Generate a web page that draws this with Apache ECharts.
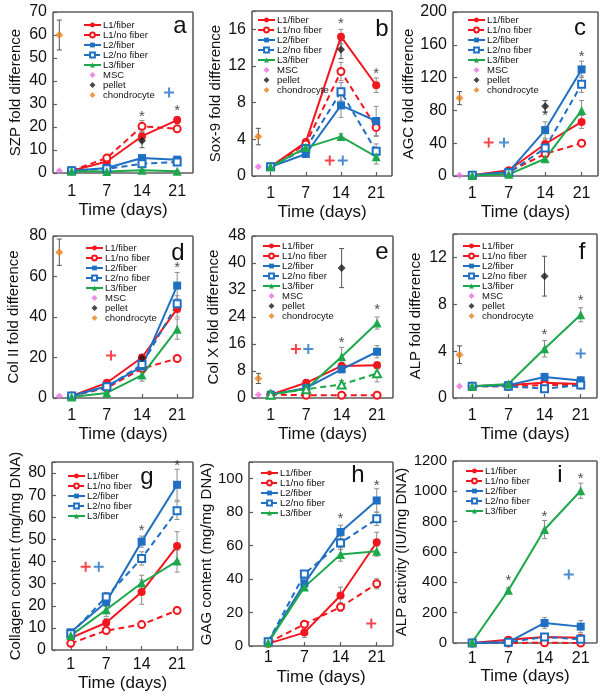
<!DOCTYPE html>
<html><head><meta charset="utf-8">
<script src="https://cdn.jsdelivr.net/npm/echarts@6/dist/echarts.min.js"></script>
<style>html,body{margin:0;padding:0;background:#fff}#c{width:604px;height:699px}</style>
</head><body><div id="c"></div>
<script>
// ---------- DATA ----------
const days = [1, 7, 14, 21];
const dayLabels = ['1', '7', '14', '21'];
const seriesNames = ['L1/fiber', 'L1/no fiber', 'L2/fiber', 'L2/no fiber', 'L3/fiber'];
const refNames = ['MSC', 'pellet', 'chondrocyte'];

// a: SZP fold difference
const a_L1f = [1, 5, 16, 23],        a_L1f_e = [0, 0.8, 2.2, 1.5];
const a_L1n = [1, 6.5, 20.3, 19.2],  a_L1n_e = [0, 1, 2.5, 1.2];
const a_L2f = [1, 2.2, 6.5, 5.8],    a_L2f_e = [0, 0.5, 1, 1];
const a_L2n = [1, 1.8, 4, 4.8],      a_L2n_e = [0, 0.5, 1, 0.8];
const a_L3f = [0.8, 0.6, 1.2, 0.8],  a_L3f_e = [0, 0.2, 0.3, 0.2];
const a_msc = 1, a_pellet = [14, 3], a_chondro = [60, 6.5];
const a_stars = [[14, 24.5], [21, 27]];
const a_plusRed = [], a_plusBlue = [[2.77, 35]];

// b: Sox-9 fold difference
const b_L1f = [1, 3.7, 15.2, 9.9],   b_L1f_e = [0, 0.3, 0.8, 0.8];
const b_L1n = [1, 3.5, 11.4, 5.3],   b_L1n_e = [0, 0.3, 1, 1];
const b_L2f = [1, 2.4, 7.7, 6.0],    b_L2f_e = [0, 0.3, 1.3, 1.6];
const b_L2n = [1, 3.0, 9.2, 2.7],    b_L2n_e = [0, 0.3, 1, 0.8];
const b_L3f = [1, 3.1, 4.3, 2.1],    b_L3f_e = [0, 0.2, 0.3, 0.8];
const b_msc = 1, b_pellet = [13.8, 1.0], b_chondro = [4.3, 0.9];
const b_stars = [[14, 16.6], [21, 11.1]];
const b_plusRed = [[1.68, 1.7]], b_plusBlue = [[2.05, 1.7]];

// c: AGC fold difference
const c_L1f = [1, 7, 39, 66],        c_L1f_e = [0, 1, 6, 8];
const c_L1n = [1, 5, 27, 40],        c_L1n_e = [0, 1, 4, 3];
const c_L2f = [1, 5, 56, 130],       c_L2f_e = [0, 1, 10, 10];
const c_L2n = [1, 4, 34, 112],       c_L2n_e = [0, 1, 5, 10];
const c_L3f = [0.5, 2, 21, 80],      c_L3f_e = [0, 0.5, 3, 12];
const c_msc = 1, c_pellet = [85, 7], c_chondro = [95, 8];
const c_stars = [[14, 73], [21, 145]];
const c_plusRed = [[0.45, 41]], c_plusBlue = [[0.87, 41]];

// d: Col II fold difference
const d_L1f = [1, 7.5, 20, 44],      d_L1f_e = [0, 1, 1.5, 4];
const d_L1n = [1, 5, 14.5, 19.5],    d_L1n_e = [0, 0.5, 1, 1];
const d_L2f = [1, 5.8, 15.5, 55.5],  d_L2f_e = [0, 0.8, 2, 6.5];
const d_L2n = [1, 5.5, 16.5, 46.5],  d_L2n_e = [0, 0.5, 2, 4];
const d_L3f = [0.5, 2.5, 11.3, 34],  d_L3f_e = [0, 0.5, 3, 5];
const d_msc = 1, d_pellet = [19.7, 1.5], d_chondro = [72, 6.5];
const d_stars = [[21, 64.5]];
const d_plusRed = [[1.12, 21]], d_plusBlue = [];

// e: Col X fold difference
const e_L1f = [1, 4.5, 9.5, 9.7],    e_L1f_e = [0, 0.5, 1, 1];
const e_L1n = [1, 0.8, 0.8, 0.8],    e_L1n_e = [0, 0, 0, 0];
const e_L2f = [1, 3, 8.5, 13.7],     e_L2f_e = [0, 0.4, 1, 1.8];
const e_L3f = [1, 2.7, 12.2, 22.2],  e_L3f_e = [0, 0.4, 2.8, 1.8];
const e_L3n = [1, 2.6, 4, 7.3],      e_L3n_e = [0, 0.3, 1.2, 2.5];
const e_msc = 1, e_pellet = [38.5, 5.8], e_chondro = [5.8, 1.5];
const e_stars = [[14, 16.3], [21, 26]];
const e_plusRed = [[0.71, 14.5]], e_plusBlue = [[1.06, 14.5]];

// f: ALP fold difference
const f_L1f = [1, 1.1, 1.3, 1.2],    f_L1f_e = [0, 0.1, 0.3, 0.3];
const f_L1n = [1, 1.0, 1.1, 1.1],    f_L1n_e = [0, 0, 0, 0];
const f_L2f = [1, 1.1, 1.8, 1.5],    f_L2f_e = [0, 0.1, 0.3, 0.3];
const f_L2n = [1, 1.0, 0.8, 1.1],    f_L2n_e = [0, 0, 0.2, 0.2];
const f_L3f = [1, 1.2, 4.2, 7.1],    f_L3f_e = [0, 0.1, 0.7, 0.6];
const f_msc = 1, f_pellet = [10.4, 1.7], f_chondro = [3.7, 0.75];
const f_stars = [[14, 5.4], [21, 8.3]];
const f_plusRed = [], f_plusBlue = [[3.0, 3.8]];

// g: Collagen content (mg/mg DNA)
const g_L1f = [5.5, 12.3, 26.2, 47], g_L1f_e = [1, 2, 5.5, 6.5];
const g_L1n = [3, 8.8, 11.5, 17.9],  g_L1n_e = [0.5, 1, 1, 1.5];
const g_L2f = [8, 21.7, 49, 74.7],   g_L2f_e = [1, 2, 2.5, 7];
const g_L2n = [7.3, 24, 41.4, 63],   g_L2n_e = [1, 2, 3, 4];
const g_L3f = [6.5, 18.2, 30.3, 40.2], g_L3f_e = [1, 3, 3.5, 5];
const g_stars = [[14, 53.8], [21, 83.3]];
const g_plusRed = [[0.42, 37.6]], g_plusBlue = [[0.79, 37.6]];

// h: GAG content (mg/mg DNA)
const h_L1f = [1.4, 8, 30.2, 62],    h_L1f_e = [1, 3, 5, 6];
const h_L1n = [2, 13, 23.3, 37.2],   h_L1n_e = [0.5, 1.5, 2.5, 3];
const h_L2f = [2.5, 37.4, 68.2, 87], h_L2f_e = [1, 3, 4, 7];
const h_L2n = [2.5, 43, 61.6, 76],   h_L2n_e = [1, 2, 4, 4];
const h_L3f = [2, 35.2, 54.7, 56.7], h_L3f_e = [1, 2, 4, 3];
const h_stars = [[14, 76], [21, 96]];
const h_plusRed = [[2.85, 13.5]], h_plusBlue = [];

// i: ALP activity (IU/mg DNA)
const i_L1f = [0, 22, 39, 35],       i_L1f_e = [0, 5, 5, 8];
const i_L1n = [0, 0, 2, 0],          i_L1n_e = [0, 0, 0, 0];
const i_L2f = [0, 5, 132, 108],      i_L2f_e = [0, 3, 35, 40];
const i_L2n = [0, 5, 40, 25],        i_L2n_e = [0, 3, 10, 15];
const i_L3f = [5, 347, 748, 1004],   i_L3f_e = [3, 15, 60, 50];
const i_stars = [[7, 408], [14, 831], [21, 1080]];
const i_plusRed = [], i_plusBlue = [[2.67, 451]];

// ---------- STYLE / LAYOUT ----------
const RED = '#f2161e', BLUE = '#1f6fc3', GREEN = '#1ea84c', MAG = '#ee6be0', ORANGE = '#e9821e', BLACK = '#1a1a1a';
const FONT = '"Liberation Sans", Arial, sans-serif';
const MSC_X = -0.35;
const X_MIN = -0.53, X_MAX = 3.45;
const dayIdx = d => days.indexOf(d);
const styles = {
  'L1/fiber':    {color: RED,   symbol: 'circle',        dash: false, size: 8},
  'L1/no fiber': {color: RED,   symbol: 'emptyCircle',   dash: true,  size: 7},
  'L2/fiber':    {color: BLUE,  symbol: 'rect',          dash: false, size: 8},
  'L2/no fiber': {color: BLUE,  symbol: 'emptyRect',     dash: true,  size: 7},
  'L3/fiber':    {color: GREEN, symbol: 'triangle',      dash: false, size: 9},
  'L3/no fiber': {color: GREEN, symbol: 'emptyTriangle', dash: true,  size: 8}
};

const panels = [
  {L: 'a', yName: 'SZP fold difference', yMax: 70, yInt: 10, grid: [53, 12, 140, 161], yGap: 30, xGap: 29, lblM: 11, yFs: 16,
   data: {'L1/fiber': [a_L1f, a_L1f_e], 'L1/no fiber': [a_L1n, a_L1n_e], 'L2/fiber': [a_L2f, a_L2f_e], 'L2/no fiber': [a_L2n, a_L2n_e], 'L3/fiber': [a_L3f, a_L3f_e]},
   msc: a_msc, pellet: a_pellet, chondro: a_chondro, stars: a_stars, plusR: a_plusRed, plusB: a_plusBlue, leg: [83, 20], letter: [180, 26]},
  {L: 'b', yName: 'Sox-9 fold difference', yMax: 18, yInt: 4, grid: [252, 11, 140, 165], yGap: 29, xGap: 28, lblM: 10, yFs: 16,
   data: {'L1/fiber': [b_L1f, b_L1f_e], 'L1/no fiber': [b_L1n, b_L1n_e], 'L2/fiber': [b_L2f, b_L2f_e], 'L2/no fiber': [b_L2n, b_L2n_e], 'L3/fiber': [b_L3f, b_L3f_e]},
   msc: b_msc, pellet: b_pellet, chondro: b_chondro, stars: b_stars, plusR: b_plusRed, plusB: b_plusBlue, leg: [257, 15], letter: [382, 29]},
  {L: 'c', yName: 'AGC fold difference', yMax: 200, yInt: 40, grid: [453, 12, 145, 164], yGap: 32, xGap: 28, lblM: 10, yFs: 16,
   data: {'L1/fiber': [c_L1f, c_L1f_e], 'L1/no fiber': [c_L1n, c_L1n_e], 'L2/fiber': [c_L2f, c_L2f_e], 'L2/no fiber': [c_L2n, c_L2n_e], 'L3/fiber': [c_L3f, c_L3f_e]},
   msc: c_msc, pellet: c_pellet, chondro: c_chondro, stars: c_stars, plusR: c_plusRed, plusB: c_plusBlue, leg: [467, 15], letter: [580, 28]},
  {L: 'd', yName: 'Col II fold difference', yMax: 80, yInt: 20, grid: [53, 236, 140, 162], yGap: 32, xGap: 28, lblM: 10, yFs: 16,
   data: {'L1/fiber': [d_L1f, d_L1f_e], 'L1/no fiber': [d_L1n, d_L1n_e], 'L2/fiber': [d_L2f, d_L2f_e], 'L2/no fiber': [d_L2n, d_L2n_e], 'L3/fiber': [d_L3f, d_L3f_e]},
   msc: d_msc, pellet: d_pellet, chondro: d_chondro, stars: d_stars, plusR: d_plusRed, plusB: d_plusBlue, leg: [85, 243], letter: [178, 253]},
  {L: 'e', yName: 'Col X fold difference', yMax: 48, yInt: 8, grid: [252, 236, 141, 162], yGap: 31, xGap: 28, lblM: 10, yFs: 16,
   data: {'L1/fiber': [e_L1f, e_L1f_e], 'L1/no fiber': [e_L1n, e_L1n_e], 'L2/fiber': [e_L2f, e_L2f_e], 'L3/fiber': [e_L3f, e_L3f_e], 'L3/no fiber': [e_L3n, e_L3n_e]},
   msc: e_msc, pellet: e_pellet, chondro: e_chondro, stars: e_stars, plusR: e_plusRed, plusB: e_plusBlue, leg: [262, 241], letter: [382, 252]},
  {L: 'f', yName: 'ALP fold difference', yMax: 14, yInt: 4, grid: [453, 234, 144, 164], yGap: 30, xGap: 28, lblM: 10, yFs: 16,
   data: {'L1/fiber': [f_L1f, f_L1f_e], 'L1/no fiber': [f_L1n, f_L1n_e], 'L2/fiber': [f_L2f, f_L2f_e], 'L2/no fiber': [f_L2n, f_L2n_e], 'L3/fiber': [f_L3f, f_L3f_e]},
   msc: f_msc, pellet: f_pellet, chondro: f_chondro, stars: f_stars, plusR: f_plusRed, plusB: f_plusBlue, leg: [462, 241], letter: [582, 252]},
  {L: 'g', yName: 'Collagen content (mg/mg DNA)', yMax: 85, yInt: 10, grid: [52, 462, 141, 188], yGap: 29, xGap: 25, lblM: 7, yFs: 16,
   data: {'L1/fiber': [g_L1f, g_L1f_e], 'L1/no fiber': [g_L1n, g_L1n_e], 'L2/fiber': [g_L2f, g_L2f_e], 'L2/no fiber': [g_L2n, g_L2n_e], 'L3/fiber': [g_L3f, g_L3f_e]},
   stars: g_stars, plusR: g_plusRed, plusB: g_plusBlue, leg: [67, 471], letter: [147, 477]},
  {L: 'h', yName: 'GAG content (mg/mg DNA)', yMax: 110, yInt: 20, grid: [249, 462, 144, 184], yGap: 29, xGap: 23, lblM: 4, yFs: 15,
   data: {'L1/fiber': [h_L1f, h_L1f_e], 'L1/no fiber': [h_L1n, h_L1n_e], 'L2/fiber': [h_L2f, h_L2f_e], 'L2/no fiber': [h_L2n, h_L2n_e], 'L3/fiber': [h_L3f, h_L3f_e]},
   stars: h_stars, plusR: h_plusRed, plusB: h_plusBlue, leg: [260, 468], letter: [358, 475]},
  {L: 'i', yName: 'ALP activity (IU/mg DNA)', yMax: 1200, yInt: 200, grid: [453, 461, 144, 182], yGap: 33, xGap: 25, lblM: 8, yFs: 15,
   data: {'L1/fiber': [i_L1f, i_L1f_e], 'L1/no fiber': [i_L1n, i_L1n_e], 'L2/fiber': [i_L2f, i_L2f_e], 'L2/no fiber': [i_L2n, i_L2n_e], 'L3/fiber': [i_L3f, i_L3f_e]},
   stars: i_stars, plusR: i_plusRed, plusB: i_plusBlue, leg: [465, 466], letter: [560, 475]}
];

function errRender(params, api) {
  const x = api.value(0), lo = api.value(1), hi = api.value(2);
  const p1 = api.coord([x, hi]), p2 = api.coord([x, lo]);
  const w = 2.5, st = {stroke: api.value(3) ? '#555' : '#8c8c8c', lineWidth: 1};
  return {type: 'group', children: [
    {type: 'line', shape: {x1: p1[0], y1: p1[1], x2: p2[0], y2: p2[1]}, style: st},
    {type: 'line', shape: {x1: p1[0] - w, y1: p1[1], x2: p1[0] + w, y2: p1[1]}, style: st},
    {type: 'line', shape: {x1: p2[0] - w, y1: p2[1], x2: p2[0] + w, y2: p2[1]}, style: st}
  ]};
}
// frame of each plot box, drawn as four lines around the coordinate system
function frameRender(params, api) {
  const c = params.coordSys;
  const st = {stroke: '#5e5e5e', lineWidth: 1.6};
  const x0 = c.x, y0 = c.y, x1 = c.x + c.width, y1 = c.y + c.height;
  return {type: 'group', silent: true, children: [
    {type: 'line', shape: {x1: x0, y1: y0, x2: x1, y2: y0}, style: st},
    {type: 'line', shape: {x1: x1, y1: y0, x2: x1, y2: y1}, style: st},
    {type: 'line', shape: {x1: x0, y1: y1, x2: x1, y2: y1}, style: st},
    {type: 'line', shape: {x1: x0, y1: y0, x2: x0, y2: y1}, style: st}
  ]};
}
const PLUS = 'path://M4,0H6V4H10V6H6V10H4V6H0V4H4Z';
const AXC = '#5e5e5e';

const grids = [], xAxes = [], yAxes = [], series = [], legends = [], graphics = [];
panels.forEach((p, k) => {
  grids.push({left: p.grid[0], top: p.grid[1], width: p.grid[2], height: p.grid[3]});
  xAxes.push({gridIndex: k, type: 'value', min: X_MIN, max: X_MAX, position: 'bottom',
    axisLine: {show: false, onZero: false},
    axisTick: {show: true, inside: true, length: 4, customValues: [0, 1, 2, 3], lineStyle: {color: AXC, width: 1.2}},
    axisLabel: {customValues: [0, 1, 2, 3], formatter: v => dayLabels[Math.round(v)], fontSize: 16, color: '#111', margin: p.lblM, fontFamily: FONT},
    splitLine: {show: false},
    name: 'Time (days)', nameLocation: 'middle', nameGap: p.xGap, nameTextStyle: {fontSize: 17, color: '#111', fontFamily: FONT}});
  yAxes.push({gridIndex: k, type: 'value', min: 0, max: p.yMax, interval: p.yInt, position: 'left',
    axisLine: {show: false, onZero: false},
    axisTick: {show: true, inside: true, length: 4, lineStyle: {color: AXC, width: 1.2}},
    axisLabel: {formatter: v => (v % p.yInt === 0 ? String(v) : ''), fontSize: p.yFs, color: '#111', margin: 6, fontFamily: FONT},
    splitLine: {show: false},
    name: p.yName, nameLocation: 'middle', nameGap: p.yGap, nameTextStyle: {fontSize: 15, color: '#111', fontFamily: FONT}});

  series.push({type: 'custom', xAxisIndex: k, yAxisIndex: k, z: 1, renderItem: frameRender, data: [[1, 1]], silent: true, clip: false, animation: false});

  const errData = [];
  Object.keys(p.data).forEach(name => {
    const [vals, errs] = p.data[name];
    const s = styles[name];
    series.push({type: 'line', name: name, xAxisIndex: k, yAxisIndex: k, z: 3,
      data: vals.map((v, j) => [dayIdx(days[j]), v]),
      symbol: s.symbol, symbolSize: s.size, showSymbol: true,
      lineStyle: {color: s.color, width: 2, type: s.dash ? [6, 4] : 'solid'},
      itemStyle: {color: s.color, borderColor: s.color, borderWidth: s.symbol.startsWith('empty') ? 1.6 : 0},
      emphasis: {disabled: true}, animation: false});
    vals.forEach((v, j) => { if (errs[j] > 0) errData.push([dayIdx(days[j]), v - errs[j], v + errs[j], 0]); });
  });
  if (p.pellet) errData.push([dayIdx(14), p.pellet[0] - p.pellet[1], p.pellet[0] + p.pellet[1], 1]);
  if (p.chondro) errData.push([MSC_X, p.chondro[0] - p.chondro[1], p.chondro[0] + p.chondro[1], 1]);
  series.push({type: 'custom', xAxisIndex: k, yAxisIndex: k, z: 2, renderItem: errRender, data: errData,
    encode: {x: 0, y: [1, 2]}, silent: true, animation: false});
  if (p.msc !== undefined) {
    series.push({type: 'scatter', name: 'MSC', xAxisIndex: k, yAxisIndex: k, z: 4, data: [[MSC_X, p.msc]], symbol: 'diamond', symbolSize: 7, itemStyle: {color: MAG}, animation: false});
    series.push({type: 'scatter', name: 'pellet', xAxisIndex: k, yAxisIndex: k, z: 4, data: [[dayIdx(14), p.pellet[0]]], symbol: 'diamond', symbolSize: 8, itemStyle: {color: BLACK}, animation: false});
    series.push({type: 'scatter', name: 'chondrocyte', xAxisIndex: k, yAxisIndex: k, z: 4, data: [[MSC_X, p.chondro[0]]], symbol: 'diamond', symbolSize: 8, itemStyle: {color: ORANGE}, animation: false});
  }
  series.push({type: 'scatter', xAxisIndex: k, yAxisIndex: k, z: 5, silent: true,
    data: p.stars.map(s => [dayIdx(s[0]), s[1]]), symbolSize: 1, itemStyle: {color: 'rgba(0,0,0,0)'},
    label: {show: true, position: 'inside', formatter: '*', fontSize: 15, color: '#222', fontFamily: FONT}, animation: false});
  if (p.plusR.length) series.push({type: 'scatter', xAxisIndex: k, yAxisIndex: k, z: 5, silent: true, data: p.plusR, symbol: PLUS, symbolSize: 10, itemStyle: {color: RED}, animation: false});
  if (p.plusB.length) series.push({type: 'scatter', xAxisIndex: k, yAxisIndex: k, z: 5, silent: true, data: p.plusB, symbol: PLUS, symbolSize: 10, itemStyle: {color: BLUE}, animation: false});

  const legData = seriesNames.map(n => ({name: n}));
  if (p.msc !== undefined) refNames.forEach(n => legData.push({name: n, icon: 'path://M5,0L10,5L5,10L0,5Z'}));
  legends.push({orient: 'vertical', left: p.leg[0], top: p.leg[1], padding: 0, itemGap: 0, itemWidth: 17, itemHeight: 6,
    selectedMode: false, symbolKeepAspect: true, data: legData,
    textStyle: {fontSize: 9.5, lineHeight: 7.5, height: 7.5, color: '#111', fontFamily: FONT, padding: [0, 0, 0, -3]}});
  graphics.push({type: 'text', x: p.letter[0], y: p.letter[1], style: {text: p.L, font: '24px ' + FONT, fill: '#111', textAlign: 'center', textVerticalAlign: 'middle'}});
});

const chart = echarts.init(document.getElementById('c'), null, {renderer: 'canvas'});
chart.setOption({animation: false, backgroundColor: '#fff', grid: grids, xAxis: xAxes, yAxis: yAxes, series: series, legend: legends, graphic: graphics});
</script></body></html>
